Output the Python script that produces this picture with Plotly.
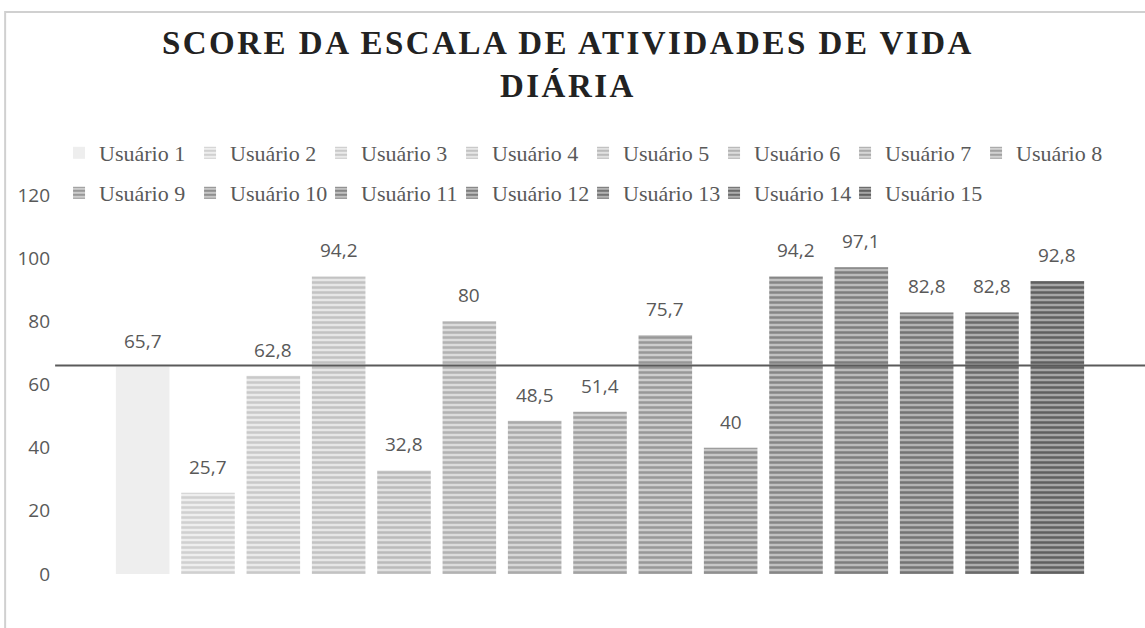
import plotly.graph_objects as go

users = [f"Usuário {i}" for i in range(1, 16)]
scores = [65.7, 25.7, 62.8, 94.2, 32.8, 80, 48.5, 51.4, 75.7, 40, 94.2, 97.1, 82.8, 82.8, 92.8]
ref_value = 66
y_ticks = [0, 20, 40, 60, 80, 100, 120]

# stripe (fg) and background colours per series, light -> dark
fg_colors = ["#eeeeee", "#d0d0d0", "#c9c9c9", "#c2c2c2", "#bababa", "#b2b2b2", "#aaaaaa", "#a1a1a1",
             "#989898", "#8f8f8f", "#868686", "#7d7d7d", "#747474", "#6a6a6a", "#606060"]
bg_colors = ["#f2f2f2", "#eeeeee", "#eaeaea", "#e6e6e6", "#e1e1e1", "#dcdcdc", "#d7d7d7", "#d2d2d2",
             "#cdcdcd", "#c7c7c7", "#c1c1c1", "#bbbbbb", "#b4b4b4", "#aeaeae", "#a7a7a7"]

TXT = "#595959"

fig = go.Figure()
for i, (u, s) in enumerate(zip(users, scores)):
    if i == 0:
        marker = dict(color=fg_colors[i], line=dict(width=0))
    else:
        marker = dict(color=bg_colors[i], line=dict(width=0),
                      pattern=dict(shape="-", fgcolor=fg_colors[i], bgcolor=bg_colors[i],
                                   size=5, solidity=0.5, fillmode="replace"))
    fig.add_trace(go.Bar(x=[u], y=[s], name=u, marker=marker,
                         legend="legend" if i < 8 else "legend2"))

# invisible spacer entry so the last legend label is not clipped
fig.add_trace(go.Bar(x=[None], y=[None], name=" ", legend="legend2", hoverinfo="skip",
                     marker=dict(color="rgba(0,0,0,0)", line=dict(width=0))))

for u, s in zip(users, scores):
    fig.add_annotation(x=u, y=s, text=f"{s:g}".replace(".", ","), showarrow=False,
                       yshift=26, font=dict(family="Open Sans", size=19, color=TXT))

# reference line
fig.add_shape(type="line", xref="paper", yref="y", x0=-0.056, x1=1.07, y0=ref_value, y1=ref_value,
              line=dict(color="#5a5a5a", width=2))
# chart frame
fig.add_shape(type="rect", xref="paper", yref="paper", x0=-0.107, x1=1.07, y0=-0.2, y1=1.483,
              line=dict(color="#d0d0d0", width=2), fillcolor="rgba(0,0,0,0)", layer="below")

legend_common = dict(orientation="h", xanchor="left", yanchor="middle",
                     font=dict(family="Liberation Serif", size=22, color=TXT),
                     entrywidth=86, entrywidthmode="pixels", bgcolor="rgba(0,0,0,0)",
                     itemclick=False)

fig.update_layout(
    width=1145, height=628,
    paper_bgcolor="white", plot_bgcolor="white",
    margin=dict(l=110, r=55, t=195, b=54),
    barmode="relative", bargap=0.18,
    title=dict(text='<span style="letter-spacing:2.5px">SCORE DA ESCALA DE ATIVIDADES DE VIDA<br>DIÁRIA</span>',
               x=0.496, xref="container", xanchor="center",
               y=1 - 54 / 628, yref="container", yanchor="top",
               font=dict(family="Liberation Serif", size=33, color="#222222", weight="bold")),
    xaxis=dict(showticklabels=False, showgrid=False, zeroline=False, showline=False,
               categoryorder="array", categoryarray=users),
    yaxis=dict(range=[0, 120], tickvals=y_ticks, showgrid=False, zeroline=False, showline=False,
               ticklabelstandoff=59,
               tickfont=dict(family="Open Sans", size=19, color=TXT)),
    legend=dict(x=-0.052, y=(574 - 153) / 379, **legend_common),
    legend2=dict(x=-0.052, y=(574 - 193) / 379, **legend_common),
    showlegend=True,
)

fig.write_html("out.html", config={"displayModeBar": False},
               post_script="document.body.style.margin='0';")
